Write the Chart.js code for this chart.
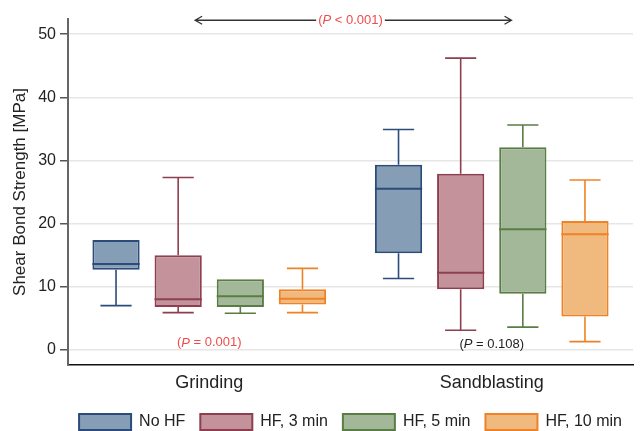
<!DOCTYPE html>
<html>
<head>
<meta charset="utf-8">
<script src="https://cdn.jsdelivr.net/npm/chart.js@4"></script>
<style>
  html, body { margin: 0; padding: 0; background: #fff; }
  #myChart { display: block; }
</style>
</head>
<body>
<canvas id="myChart" width="643" height="431"></canvas>
<script>
const categories = ['Grinding', 'Sandblasting'];
const groups = ['No HF', 'HF, 3 min', 'HF, 5 min', 'HF, 10 min'];
// per group: [Grinding, Sandblasting]
const minVals = [[7.0, 11.3], [5.9, 3.1], [5.8, 3.6], [5.9, 1.3]];
const q1Vals  = [[12.7, 15.3], [6.8, 9.6], [6.8, 8.9], [7.2, 5.3]];
const medVals = [[13.6, 25.5], [8.0, 12.2], [8.5, 19.1], [8.1, 18.3]];
const q3Vals  = [[17.4, 29.3], [15.0, 27.9], [11.2, 32.1], [9.6, 20.4]];
const maxVals = [[17.4, 34.9], [27.3, 46.2], [11.2, 35.6], [12.9, 26.9]];
const yTicks = [0, 10, 20, 30, 40, 50];

// p-value notes (x in category index, y in MPa)
const pTexts = [['(', 'P', ' < 0.001)'], ['(', 'P', ' = 0.001)'], ['(', 'P', ' = 0.108)']];
const pX = [0.5, 0, 1];
const pY = [52.2, 1.1, 0.9];
const pColors = ['#ef4b4b', '#ef4b4b', '#222222'];
const arrowFrom = -0.05, arrowTo = 1.07;

const fills = ['#869db6', '#c3929a', '#a2b898', '#f0b97e'];
const borders = ['#2b4b7a', '#8e3f4f', '#5a7d45', '#ef8226'];

const FONT = '"Liberation Sans", Arial, sans-serif';

const boxPlugin = {
  id: 'boxes',
  beforeDraw(chart) {
    // center the legend under the plot area instead of the whole canvas
    const lg = chart.legend, ca = chart.chartArea;
    const dx = (ca.left + ca.right) / 2 - (lg.left + lg.right) / 2;
    lg.left += dx; lg.right += dx;
  },
  afterDatasetsDraw(chart) {
    const ctx = chart.ctx;
    const y = chart.scales.y;
    ctx.save();
    groups.forEach((g, i) => {
      const meta = chart.getDatasetMeta(i);
      meta.data.forEach((bar, j) => {
        const x = bar.x, w = bar.width, cap = w * 0.66;
        ctx.strokeStyle = borders[i];
        ctx.lineWidth = 2;
        // median
        const ym = y.getPixelForValue(medVals[i][j]);
        ctx.beginPath();
        ctx.moveTo(x - w / 2, ym); ctx.lineTo(x + w / 2, ym);
        ctx.stroke();
        // whiskers
        ctx.lineWidth = 1.6;
        const pairs = [[q3Vals[i][j], maxVals[i][j]], [q1Vals[i][j], minVals[i][j]]];
        pairs.forEach(([a, b]) => {
          if (Math.abs(a - b) < 0.05) return;
          const ya = y.getPixelForValue(a), yb = y.getPixelForValue(b);
          ctx.beginPath();
          ctx.moveTo(x, ya); ctx.lineTo(x, yb);
          ctx.moveTo(x - cap / 2, yb); ctx.lineTo(x + cap / 2, yb);
          ctx.stroke();
        });
      });
    });
    ctx.restore();
  },
  afterDraw(chart) {
    const ctx = chart.ctx;
    const xs = chart.scales.x, ys = chart.scales.y;
    ctx.save();
    ctx.textBaseline = 'middle';
    const spans = [];
    pTexts.forEach((parts, k) => {
      const fonts = ['13px ' + FONT, 'italic 13px ' + FONT, '13px ' + FONT];
      const widths = parts.map((t, n) => { ctx.font = fonts[n]; return ctx.measureText(t).width; });
      const total = widths.reduce((a, b) => a + b, 0);
      const cx = xs.getPixelForValue(pX[k]);
      const cy = ys.getPixelForValue(pY[k]);
      let x = cx - total / 2;
      ctx.fillStyle = pColors[k];
      parts.forEach((t, n) => {
        ctx.font = fonts[n];
        ctx.textAlign = 'left';
        ctx.fillText(t, x, cy);
        x += widths[n];
      });
      spans.push([cx - total / 2, cx + total / 2, cy]);
    });
    // double arrow around first note
    const [t0, t1, ay] = spans[0];
    const ax0 = xs.getPixelForValue(arrowFrom), ax1 = xs.getPixelForValue(arrowTo);
    ctx.strokeStyle = '#333';
    ctx.lineWidth = 1.3;
    ctx.beginPath();
    ctx.moveTo(ax0, ay); ctx.lineTo(t0 - 2, ay);
    ctx.moveTo(t1 + 2, ay); ctx.lineTo(ax1, ay);
    ctx.moveTo(ax0 + 7, ay - 4); ctx.lineTo(ax0, ay); ctx.lineTo(ax0 + 7, ay + 4);
    ctx.moveTo(ax1 - 7, ay - 4); ctx.lineTo(ax1, ay); ctx.lineTo(ax1 - 7, ay + 4);
    ctx.stroke();
    ctx.restore();
  }
};

new Chart(document.getElementById('myChart'), {
  type: 'bar',
  data: {
    labels: categories,
    datasets: groups.map((g, i) => ({
      label: g,
      data: categories.map((c, j) => [q1Vals[i][j], q3Vals[i][j]]),
      backgroundColor: fills[i],
      borderColor: borders[i],
      borderWidth: 2,
      borderSkipped: false,
      categoryPercentage: 0.88,
      barPercentage: 0.76
    }))
  },
  options: {
    responsive: false,
    devicePixelRatio: 1,
    animation: false,
    layout: { padding: { top: 19, right: 10, left: 6, bottom: -9 } },
    plugins: {
      tooltip: { enabled: false },
      legend: {
        position: 'bottom',
        labels: {
          boxWidth: 52,
          boxHeight: 16,
          padding: 15,
          color: '#222',
          font: { family: FONT, size: 16 }
        }
      }
    },
    scales: {
      x: {
        grid: { display: false, drawTicks: false, tickLength: 0 },
        border: { color: '#111', width: 1.5 },
        ticks: { color: '#222', font: { family: FONT, size: 18 }, padding: 7 },
        afterFit: s => { s.height = 34; }
      },
      y: {
        min: -2.4,
        max: 52.4,
        afterBuildTicks: s => { s.ticks = yTicks.map(v => ({ value: v })); },
        grid: { color: '#e6e6e6', lineWidth: 1.5, tickColor: '#555', tickLength: 8 },
        border: { color: '#666', width: 2 },
        ticks: { color: '#222', font: { family: FONT, size: 16 }, padding: 4 },
        title: { display: true, text: 'Shear Bond Strength [MPa]', color: '#222', font: { family: FONT, size: 17 }, padding: 4 },
        afterFit: s => { s.width = 62; }
      }
    }
  },
  plugins: [boxPlugin]
});
</script>
</body>
</html>
